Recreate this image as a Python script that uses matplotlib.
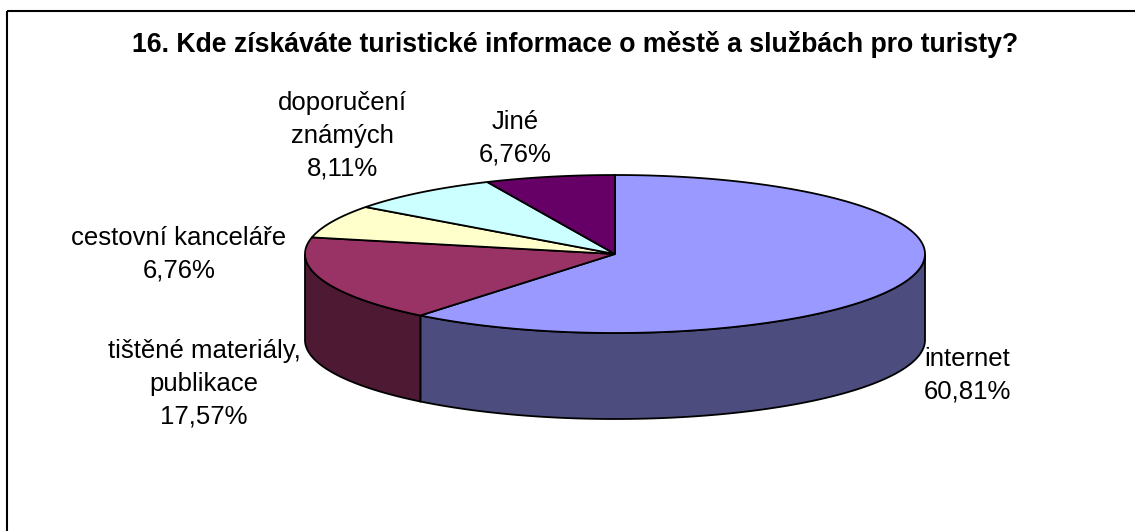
import numpy as np
import matplotlib
matplotlib.use('Agg')
import matplotlib.pyplot as plt
from matplotlib.patches import Polygon, Rectangle

title = '16. Kde získáváte turistické informace o městě a službách pro turisty?'
categories = ['internet', 'tištěné materiály,\npublikace', 'cestovní kanceláře',
              'doporučení\nznámých', 'Jiné']
values = [60.81, 17.57, 6.76, 8.11, 6.76]

top_colors = ['#9999FF', '#993366', '#FFFFCC', '#CCFFFF', '#660066']
side_colors = ['#4C4C7F', '#4D1933', '#7F7F66', '#667F7F', '#330033']

# label anchors (pixel coords, y down)
label_pos = [(967, 375), (204, 384), (179, 254), (342, 136), (515, 138)]

W, H = 1135, 531
cx, cy, rx, ry, depth = 615, 254, 310, 79, 86

plt.rcParams['font.family'] = ['Liberation Sans', 'DejaVu Sans']

fig = plt.figure(figsize=(W / 100, H / 100), dpi=100)
ax = fig.add_axes([0, 0, 1, 1])
ax.set_xlim(0, W)
ax.set_ylim(H, 0)
ax.axis('off')


def arc(t1, t2, dy=0, n=200):
    t = np.radians(np.linspace(t1, t2, n))
    return np.column_stack([cx + rx * np.cos(t), cy - ry * np.sin(t) + dy])


total = sum(values)
start = 90.0
slices = []
for v in values:
    end = start - v / total * 360.0
    slices.append((end, start))
    start = end

# side walls (front half only)
for i, (lo, hi) in enumerate(slices):
    for k in (-360, 0, 360):
        a, b = max(lo, -180 + k), min(hi, k)
        if b > a:
            upper = arc(a, b)
            lower = arc(b, a, depth)
            ax.add_patch(Polygon(np.vstack([upper, lower]), closed=True,
                                 facecolor=side_colors[i], edgecolor='black', lw=1.3))

# top faces
for i, (lo, hi) in enumerate(slices):
    pts = np.vstack([[cx, cy], arc(hi, lo)])
    ax.add_patch(Polygon(pts, closed=True, facecolor=top_colors[i],
                         edgecolor='black', lw=1.3))

for name, v, (x, y) in zip(categories, values, label_pos):
    pct = ('%.2f%%' % v).replace('.', ',')
    ax.text(x, y, name + '\n' + pct, ha='center', va='center', fontsize=18.5,
            linespacing=1.45, color='black')

ax.text(575, 52, title, ha='center', va='baseline', fontsize=19.2, fontweight='bold')

ax.add_patch(Rectangle((7, 11), W + 20, H + 20, fill=False, edgecolor='black', lw=1.5))

fig.savefig('out.png', dpi=100)
